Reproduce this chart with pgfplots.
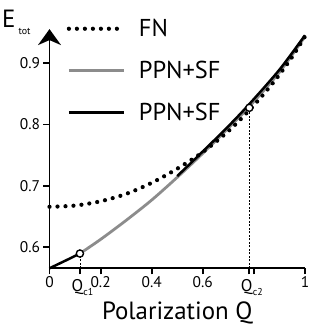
\documentclass[border=0pt]{standalone}
\usepackage{pgfplots}
\pgfplotsset{compat=1.18}
\usepackage{fontspec}
\setmainfont{PT Sans}
\usetikzlibrary{arrows.meta}
\definecolor{ppngray}{HTML}{8C8C8C}
\tikzset{
  fnstyle/.style={black, line width=4.2bp, line cap=round, dash pattern=on 0bp off 8bp},
  graystyle/.style={ppngray, line width=2.8bp},
  blackstyle/.style={black, line width=2.5bp},
}
\begin{document}
\begin{tikzpicture}
\begin{axis}[
  name=ax, at={(0,0)}, anchor=south west,
  scale only axis, width=255.5bp, height=239.2bp,
  xmin=0, xmax=1, ymin=0.566, ymax=0.955,
  clip=false,
  axis lines=left,
  axis line style={line width=1.8bp, black},
  x axis line style={-},
  y axis line style={-{Stealth[length=16bp,width=23bp,inset=5bp]}},
  xtick={0,0.2,0.4,0.6,0.8,1},
  xticklabels={0,0.2,0.4,0.6,,1},
  ytick={0.6,0.7,0.8,0.9},
  yticklabels={0.6,0.7,0.8,0.9},
  extra x ticks={0.119,0.782},
  extra x tick labels={Q\kern0.3bp\raisebox{-4bp}{\fontsize{10}{10}\selectfont c1},Q\kern0.3bp\raisebox{-4bp}{\fontsize{10}{10}\selectfont c2}},
  extra x tick style={tick label style={font=\fontsize{17}{17}\selectfont, xshift=2.5bp, yshift=-3bp}},
  tick align=outside,
  major tick length=6bp,
  tick style={line width=1.8bp, black},
  tick label style={font=\fontsize{15.5}{15.5}\selectfont},
  x tick label style={yshift=1bp},
  xlabel={Polarization Q},
  xlabel style={at={(axis description cs:0.5,0)}, anchor=base, yshift=-50.7bp, font=\fontsize{25}{25}\selectfont},
  legend image code/.code={\draw[#1] (0bp,0bp) -- (55bp,0bp); \path[draw=none] (0bp,0bp) -- (68bp,0bp);},
  legend cell align=left,
  legend style={draw=none, fill=none, inner sep=0pt, at={(axis description cs:0.067,1.05)}, anchor=north west,
    font=\fontsize{24.5}{28}\selectfont, row sep=19bp},
]
\addlegendimage{fnstyle}
\addlegendentry{FN}
\addlegendimage{graystyle}
\addlegendentry{PPN+SF}
\addlegendimage{blackstyle}
\addlegendentry{PPN+SF}

% gray PPN+SF branch
\addplot[graystyle, smooth, forget plot] coordinates {
(0.119,0.590) (0.2,0.613) (0.3,0.644) (0.4,0.677) (0.5,0.714) (0.6,0.753)
(0.7,0.794) (0.782,0.829) (0.9,0.885) (1.0,0.943)
};
% black PPN+SF branches
\addplot[blackstyle, smooth, forget plot] coordinates {
(0,0.566) (0.04,0.574) (0.08,0.582) (0.119,0.590)
};
\addplot[blackstyle, smooth, forget plot] coordinates {
(0.5,0.716) (0.6,0.756) (0.7,0.797) (0.782,0.833) (0.9,0.889) (1.0,0.945)
};
% FN
\addplot[fnstyle, smooth, forget plot] coordinates {
(0,0.666) (0.1,0.668) (0.2,0.675) (0.3,0.687) (0.4,0.705) (0.5,0.728)
(0.6,0.755) (0.7,0.789) (0.782,0.823) (0.85,0.855) (0.9,0.881) (0.95,0.910) (1.0,0.943)
};
% dashed guides
\addplot[black, line width=0.6bp, dash pattern=on 2bp off 1.5bp, forget plot] coordinates {(0.119,0.566) (0.119,0.585)};
\addplot[black, line width=0.6bp, dash pattern=on 2bp off 1.5bp, forget plot] coordinates {(0.782,0.566) (0.782,0.821)};
% circles
\addplot[only marks, mark=*, mark size=3.6bp, mark options={fill=white, draw=black, line width=1.4bp}, forget plot]
  coordinates {(0.119,0.590) (0.782,0.827)};
\node[anchor=base west, font=\fontsize{25}{25}\selectfont, inner sep=0pt] at (rel axis cs:0,1) [xshift=-47.5bp, yshift=1.3bp]
  {E\kern3bp\raisebox{-7bp}{\fontsize{10}{10}\selectfont tot}};
\end{axis}
\pgfresetboundingbox
\useasboundingbox (-49.5bp,-57.7bp) rectangle (260.5bp,268.3bp);
\end{tikzpicture}
\end{document}
